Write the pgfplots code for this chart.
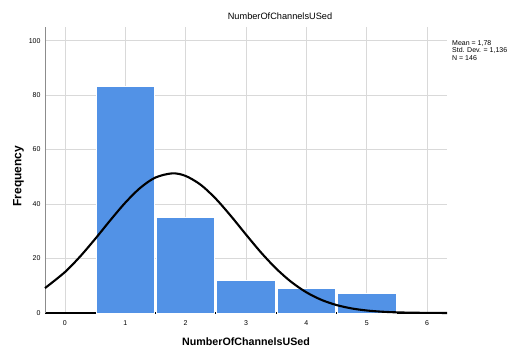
\documentclass[border=0pt]{standalone}
\usepackage{pgfplots}
\pgfplotsset{compat=1.18}
\usepackage{fontspec}
\setmainfont{Liberation Sans}
\definecolor{barblue}{RGB}{82,146,230}
\begin{document}
\begin{tikzpicture}
\path[use as bounding box] (-45pt,-36pt) rectangle (467pt,313pt);
\begin{axis}[
  at={(0pt,0pt)}, anchor=south west,
  scale only axis, width=402pt, height=286pt,
  xmin=-0.33, xmax=6.33, ymin=0, ymax=105,
  axis x line*=bottom, axis y line*=left,
  x axis line style={-, black, line width=1.8pt},
  y axis line style={-, black!45, line width=0.6pt},
  xtick={0,1,2,3,4,5,6}, ytick={0,20,40,60,80,100},
  major tick length=0pt,
  xmajorgrids, ymajorgrids,
  grid style={black!15, line width=0.8pt},
  tick label style={font=\fontsize{7}{8}\selectfont},
  /pgf/number format/assume math mode=true,
  xticklabel style={yshift=-4pt},
  yticklabel style={xshift=-1pt},
  clip=false,
]
\addplot[ybar, bar width=0.97, fill=barblue, draw=white, line width=1pt]
  coordinates {(1,83) (2,35) (3,12) (4,9) (5,7)};
\addplot[black, line width=2.1pt, smooth] coordinates {
(-0.33,9.14) (0,15.02) (0.25,20.70) (0.5,27.17) (0.75,33.99) (1,40.50)
(1.25,45.98) (1.5,49.74) (1.78,51.27) (2,50.32) (2.25,47.07) (2.5,41.94)
(2.75,35.61) (3,28.80) (3.25,22.19) (3.5,16.30) (3.75,11.40) (4,7.60)
(4.25,4.82) (4.5,2.92) (4.75,1.68) (5,0.92) (5.25,0.48) (5.5,0.24)
(5.75,0.11) (6,0.05) (6.33,0.01)};
\end{axis}
\node[font=\fontsize{9.2}{11}\selectfont] at (235pt,297pt) {NumberOfChannelsUSed};
\node[font=\fontsize{10.7}{12}\selectfont\bfseries] at (201pt,-29pt) {NumberOfChannelsUSed};
\node[font=\fontsize{12}{14}\selectfont\bfseries, rotate=90] at (-26.5pt,137pt) {Frequency};
\node[font=\fontsize{7}{7.6}\selectfont, anchor=north west, align=left, inner sep=0pt] at (407pt,273pt) {Mean = 1,78\\Std. Dev. = 1,136\\N = 146};
\end{tikzpicture}
\end{document}
